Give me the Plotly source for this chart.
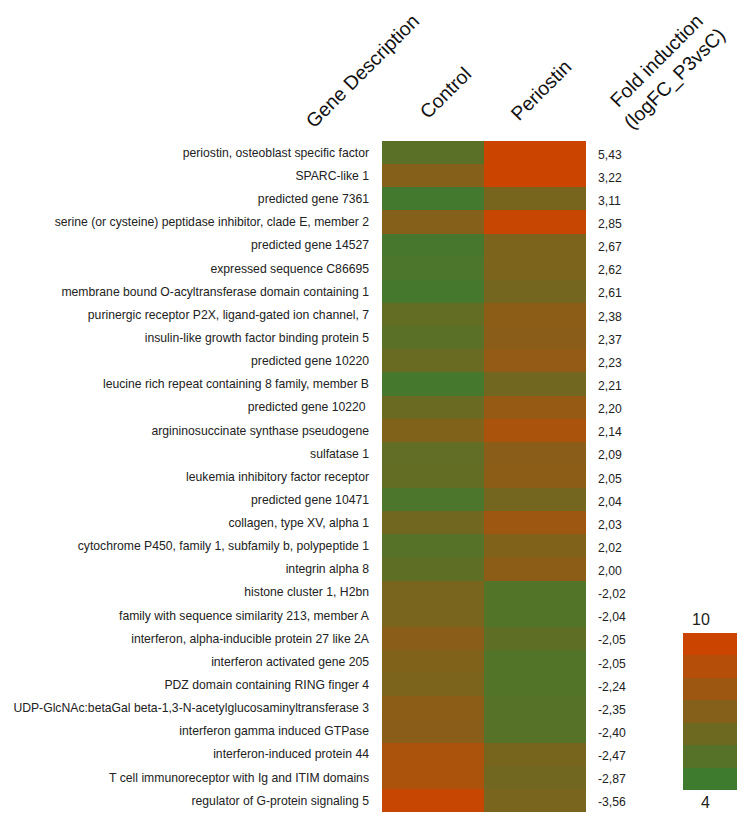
import plotly.graph_objects as go

genes = [
    "periostin, osteoblast specific factor",
    "SPARC-like 1",
    "predicted gene 7361",
    "serine (or cysteine) peptidase inhibitor, clade E, member 2",
    "predicted gene 14527",
    "expressed sequence C86695",
    "membrane bound O-acyltransferase domain containing 1",
    "purinergic receptor P2X, ligand-gated ion channel, 7",
    "insulin-like growth factor binding protein 5",
    "predicted gene 10220",
    "leucine rich repeat containing 8 family, member B",
    "predicted gene 10220 ",
    "argininosuccinate synthase pseudogene",
    "sulfatase 1",
    "leukemia inhibitory factor receptor",
    "predicted gene 10471",
    "collagen, type XV, alpha 1",
    "cytochrome P450, family 1, subfamily b, polypeptide 1",
    "integrin alpha 8",
    "histone cluster 1, H2bn",
    "family with sequence similarity 213, member A",
    "interferon, alpha-inducible protein 27 like 2A",
    "interferon activated gene 205",
    "PDZ domain containing RING finger 4",
    "UDP-GlcNAc:betaGal beta-1,3-N-acetylglucosaminyltransferase 3",
    "interferon gamma induced GTPase",
    "interferon-induced protein 44",
    "T cell immunoreceptor with Ig and ITIM domains",
    "regulator of G-protein signaling 5",
]
fold_labels = ["5,43", "3,22", "3,11", "2,85", "2,67", "2,62", "2,61", "2,38", "2,37",
               "2,23", "2,21", "2,20", "2,14", "2,09", "2,05", "2,04", "2,03", "2,02",
               "2,00", "-2,02", "-2,04", "-2,05", "-2,05", "-2,24", "-2,35", "-2,40",
               "-2,47", "-2,87", "-3,56"]
conditions = ["Control", "Periostin"]
control = [5.2, 7.0, 4.2, 7.0, 4.4, 4.6, 4.3, 5.6, 5.2, 5.8, 4.3, 5.9, 6.8, 5.5, 5.6,
           4.6, 6.2, 5.0, 5.4, 6.5, 6.5, 7.2, 6.8, 6.6, 7.3, 7.2, 8.6, 8.6, 9.8]
periostin = [10.0, 10.0, 6.4, 9.8, 6.6, 6.6, 6.3, 7.3, 7.2, 7.6, 6.2, 7.7, 8.5, 7.2, 7.3,
             6.3, 8.0, 6.8, 7.3, 4.8, 4.8, 5.4, 4.8, 4.8, 5.0, 5.0, 6.4, 6.2, 6.5]
key_levels = [10, 9, 8, 7, 6, 5, 4]
key_top_label, key_bottom_label = "10", "4"
zmin, zmax = 4, 10

cont_scale = [[0.0, "#3e7b2f"], [0.5, "#85601a"], [1.0, "#cc4500"]]

# the page body adds an 8px offset; positions below are given in window pixels
OFF = 8
W, H = 745 - OFF, 816 - OFF
def fx(px):
    return (px - OFF) / W
def fy(py):
    return 1 - (py - OFF) / H

# main heatmap area (window pixels)
L, R, T, B = 382, 586, 141, 812
# colour key area
KL, KR, KT, KB = 683, 740, 633, 790

z = [[c, p] for c, p in zip(control, periostin)]

fig = go.Figure()
fig.add_trace(go.Heatmap(
    z=z, x=conditions, y=genes, zmin=zmin, zmax=zmax,
    colorscale=cont_scale, showscale=False, xaxis="x", yaxis="y",
))
fig.add_trace(go.Heatmap(
    z=[[v] for v in key_levels], x=["key"], y=[str(v) for v in key_levels],
    zmin=zmin, zmax=zmax, colorscale=cont_scale, showscale=False,
    xaxis="x2", yaxis="y2", hoverinfo="skip",
))

txt_font = dict(family="Liberation Sans, Arial", size=12.2, color="#222")
for g, f in zip(genes, fold_labels):
    fig.add_annotation(x=fx(596), xref="paper", y=g, yref="y", text=f, showarrow=False,
                       xanchor="left", yanchor="middle", yshift=-2, font=txt_font)

key_font = dict(family="Liberation Sans, Arial", size=16, color="#222")
fig.add_annotation(x=fx((KL + KR) / 2), xref="paper", y=fy(KT - 3), yref="paper",
                   text=key_top_label, showarrow=False, yanchor="bottom", font=key_font)
fig.add_annotation(x=fx((KL + KR) / 2), xref="paper", y=fy(KB + 2), yref="paper",
                   text=key_bottom_label, showarrow=False, yanchor="top", font=key_font)

hdr_font = dict(family="Liberation Sans, Arial", size=19.5, color="#111")
headers = [
    ("Gene Description", 362, 71),
    ("Control", 445, 93),
    ("Periostin", 541, 90),
    ("Fold induction<br>(logFC_P3vsC)", 665, 70),
]
for t, hx, hy in headers:
    fig.add_annotation(x=fx(hx), y=fy(hy), xref="paper", yref="paper", text=t,
                       showarrow=False, textangle=-45, xanchor="center", yanchor="middle",
                       font=hdr_font)

fig.update_layout(
    width=W, height=H,
    margin=dict(l=0, r=0, t=0, b=0),
    plot_bgcolor="white", paper_bgcolor="white",
    showlegend=False,
    xaxis=dict(domain=[fx(L), fx(R)], visible=False, anchor="y"),
    yaxis=dict(domain=[fy(B), fy(T)], autorange="reversed", showgrid=False,
               zeroline=False, ticks="", automargin=False, ticklabelstandoff=12,
               tickfont=txt_font, anchor="x"),
    xaxis2=dict(domain=[fx(KL), fx(KR)], visible=False, anchor="y2"),
    yaxis2=dict(domain=[fy(KB), fy(KT)], visible=False, anchor="x2",
                autorange="reversed"),
)

fig.write_html("out.html")
